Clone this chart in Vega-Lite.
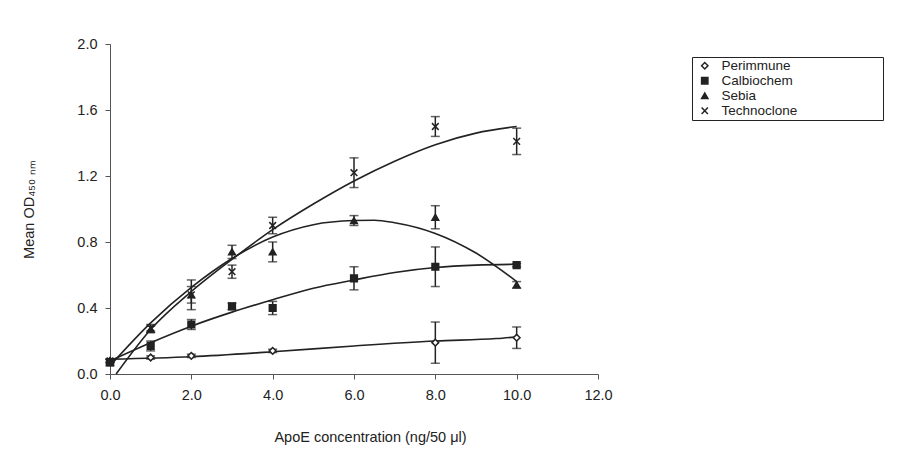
{
  "$schema": "https://vega.github.io/schema/vega-lite/v6.json",
  "width": 488,
  "height": 330,
  "autosize": {"type": "none"},
  "padding": {"left": 110, "top": 44, "right": 300, "bottom": 94},
  "background": "white",
  "config": {
    "view": {"stroke": null},
    "font": "Liberation Sans",
    "axis": {
      "grid": false,
      "labelFont": "Liberation Sans",
      "labelFontSize": 14.5,
      "labelColor": "#222",
      "titleFont": "Liberation Sans",
      "titleFontSize": 14.5,
      "titleFontWeight": "normal",
      "titleColor": "#222",
      "domainColor": "#555",
      "tickColor": "#555",
      "tickSize": 5,
      "labelFlush": false
    },
    "legend": {
      "labelFont": "Liberation Sans",
      "labelFontSize": 13.5,
      "labelColor": "#222"
    }
  },
  "datasets": {
    "points": [
      {"conc": 0, "series": "Perimmune", "od": 0.08, "err": 0.01},
      {"conc": 1, "series": "Perimmune", "od": 0.10, "err": 0.01},
      {"conc": 2, "series": "Perimmune", "od": 0.11, "err": 0.01},
      {"conc": 4, "series": "Perimmune", "od": 0.14, "err": 0.01},
      {"conc": 8, "series": "Perimmune", "od": 0.19, "err": 0.125},
      {"conc": 10, "series": "Perimmune", "od": 0.22, "err": 0.065},
      {"conc": 0, "series": "Calbiochem", "od": 0.07, "err": 0.02},
      {"conc": 1, "series": "Calbiochem", "od": 0.17, "err": 0.03},
      {"conc": 2, "series": "Calbiochem", "od": 0.30, "err": 0.03},
      {"conc": 3, "series": "Calbiochem", "od": 0.41, "err": 0.02},
      {"conc": 4, "series": "Calbiochem", "od": 0.40, "err": 0.04},
      {"conc": 6, "series": "Calbiochem", "od": 0.58, "err": 0.07},
      {"conc": 8, "series": "Calbiochem", "od": 0.65, "err": 0.12},
      {"conc": 10, "series": "Calbiochem", "od": 0.66, "err": 0.01},
      {"conc": 0, "series": "Sebia", "od": 0.08, "err": 0.01},
      {"conc": 1, "series": "Sebia", "od": 0.27, "err": 0.02},
      {"conc": 2, "series": "Sebia", "od": 0.48, "err": 0.09},
      {"conc": 3, "series": "Sebia", "od": 0.74, "err": 0.04},
      {"conc": 4, "series": "Sebia", "od": 0.74, "err": 0.06},
      {"conc": 6, "series": "Sebia", "od": 0.93, "err": 0.03},
      {"conc": 8, "series": "Sebia", "od": 0.95, "err": 0.07},
      {"conc": 10, "series": "Sebia", "od": 0.54, "err": 0.02},
      {"conc": 0, "series": "Technoclone", "od": 0.08, "err": 0.01},
      {"conc": 1, "series": "Technoclone", "od": 0.28, "err": 0.02},
      {"conc": 2, "series": "Technoclone", "od": 0.48, "err": 0.05},
      {"conc": 3, "series": "Technoclone", "od": 0.62, "err": 0.04},
      {"conc": 4, "series": "Technoclone", "od": 0.90, "err": 0.05},
      {"conc": 6, "series": "Technoclone", "od": 1.22, "err": 0.09},
      {"conc": 8, "series": "Technoclone", "od": 1.50, "err": 0.06},
      {"conc": 10, "series": "Technoclone", "od": 1.41, "err": 0.08}
    ],
    "fits": [
      {"conc": 0, "series": "Perimmune", "od": 0.09},
      {"conc": 2, "series": "Perimmune", "od": 0.105},
      {"conc": 4, "series": "Perimmune", "od": 0.135},
      {"conc": 6, "series": "Perimmune", "od": 0.17},
      {"conc": 8, "series": "Perimmune", "od": 0.20},
      {"conc": 9.5, "series": "Perimmune", "od": 0.215},
      {"conc": 10, "series": "Perimmune", "od": 0.225},
      {"conc": 0, "series": "Calbiochem", "od": 0.08},
      {"conc": 1, "series": "Calbiochem", "od": 0.19},
      {"conc": 2, "series": "Calbiochem", "od": 0.29},
      {"conc": 3, "series": "Calbiochem", "od": 0.375},
      {"conc": 4, "series": "Calbiochem", "od": 0.45},
      {"conc": 5, "series": "Calbiochem", "od": 0.52},
      {"conc": 6, "series": "Calbiochem", "od": 0.57},
      {"conc": 7, "series": "Calbiochem", "od": 0.615},
      {"conc": 8, "series": "Calbiochem", "od": 0.645},
      {"conc": 9, "series": "Calbiochem", "od": 0.66},
      {"conc": 10, "series": "Calbiochem", "od": 0.665},
      {"conc": 0, "series": "Sebia", "od": 0.05},
      {"conc": 1, "series": "Sebia", "od": 0.31},
      {"conc": 2, "series": "Sebia", "od": 0.525},
      {"conc": 3, "series": "Sebia", "od": 0.70},
      {"conc": 4, "series": "Sebia", "od": 0.83},
      {"conc": 5, "series": "Sebia", "od": 0.905},
      {"conc": 6, "series": "Sebia", "od": 0.93},
      {"conc": 6.5, "series": "Sebia", "od": 0.932},
      {"conc": 7, "series": "Sebia", "od": 0.917},
      {"conc": 8, "series": "Sebia", "od": 0.852},
      {"conc": 9, "series": "Sebia", "od": 0.733},
      {"conc": 10, "series": "Sebia", "od": 0.56},
      {"conc": 0.15, "series": "Technoclone", "od": 0.0},
      {"conc": 1, "series": "Technoclone", "od": 0.27},
      {"conc": 2, "series": "Technoclone", "od": 0.50},
      {"conc": 3, "series": "Technoclone", "od": 0.695},
      {"conc": 4, "series": "Technoclone", "od": 0.875},
      {"conc": 5, "series": "Technoclone", "od": 1.03},
      {"conc": 6, "series": "Technoclone", "od": 1.17},
      {"conc": 7, "series": "Technoclone", "od": 1.29},
      {"conc": 8, "series": "Technoclone", "od": 1.39},
      {"conc": 9, "series": "Technoclone", "od": 1.46},
      {"conc": 10, "series": "Technoclone", "od": 1.50}
    ]
  },
  "layer": [
    {
      "data": {"name": "fits"},
      "mark": {"type": "line", "interpolate": "monotone", "stroke": "#222", "strokeWidth": 1.6},
      "encoding": {
        "x": {"field": "conc", "type": "quantitative", "title": "ApoE concentration (ng/50 μl)",
          "scale": {"domain": [0, 12], "nice": false},
          "axis": {"values": [0, 2, 4, 6, 8, 10, 12], "format": ".1f", "labelPadding": 9, "titlePadding": 29, "titleX": 260}},
        "y": {"field": "od", "type": "quantitative", "title": "Mean OD₄₅₀ ₙₘ",
          "scale": {"domain": [0, 2], "nice": false, "zero": false},
          "axis": {"values": [0, 0.4, 0.8, 1.2, 1.6, 2.0], "format": ".1f", "labelPadding": 8, "titlePadding": 40}},
        "detail": {"field": "series"}
      }
    },
    {
      "data": {"name": "points"},
      "mark": {"type": "errorbar", "ticks": {"size": 9}, "color": "#222", "thickness": 1.5},
      "encoding": {
        "x": {"field": "conc", "type": "quantitative", "title": "ApoE concentration (ng/50 μl)"},
        "y": {"field": "od", "type": "quantitative", "title": "Mean OD₄₅₀ ₙₘ"},
        "yError": {"field": "err"},
        "detail": {"field": "series"}
      }
    },
    {
      "data": {"name": "points"},
      "mark": {"type": "point", "strokeWidth": 1.5, "opacity": 1, "size": 45},
      "encoding": {
        "x": {"field": "conc", "type": "quantitative", "title": "ApoE concentration (ng/50 μl)"},
        "y": {"field": "od", "type": "quantitative", "title": "Mean OD₄₅₀ ₙₘ"},
        "shape": {"field": "series", "type": "nominal",
          "scale": {"domain": ["Perimmune", "Calbiochem", "Sebia", "Technoclone"],
                    "range": ["diamond", "square", "triangle-up", "M-1,-1L1,1M-1,1L1,-1"]},
          "legend": {"title": " ", "titleOrient": "right", "titlePadding": 84, "orient": "none", "legendX": 582, "legendY": 13,
                     "strokeColor": "#222", "padding": 2, "rowPadding": 0, "symbolSize": 40,
                     "symbolStrokeWidth": 1.5, "labelOffset": 10, "symbolOffset": 4}},
        "fill": {"field": "series", "type": "nominal",
          "scale": {"domain": ["Perimmune", "Calbiochem", "Sebia", "Technoclone"],
                    "range": ["white", "#222", "#222", "#222"]},
          "legend": {"title": " ", "titleOrient": "right", "titlePadding": 84, "orient": "none", "legendX": 582, "legendY": 13,
                     "strokeColor": "#222", "padding": 2, "rowPadding": 0, "symbolSize": 40,
                     "symbolStrokeWidth": 1.5, "labelOffset": 10, "symbolOffset": 4}},
        "stroke": {"field": "series", "type": "nominal",
          "scale": {"domain": ["Perimmune", "Calbiochem", "Sebia", "Technoclone"],
                    "range": ["#222", "#222", "#222", "#222"]},
          "legend": {"title": " ", "titleOrient": "right", "titlePadding": 84, "orient": "none", "legendX": 582, "legendY": 13,
                     "strokeColor": "#222", "padding": 2, "rowPadding": 0, "symbolSize": 40,
                     "symbolStrokeWidth": 1.5, "labelOffset": 10, "symbolOffset": 4}}
      }
    }
  ]
}
